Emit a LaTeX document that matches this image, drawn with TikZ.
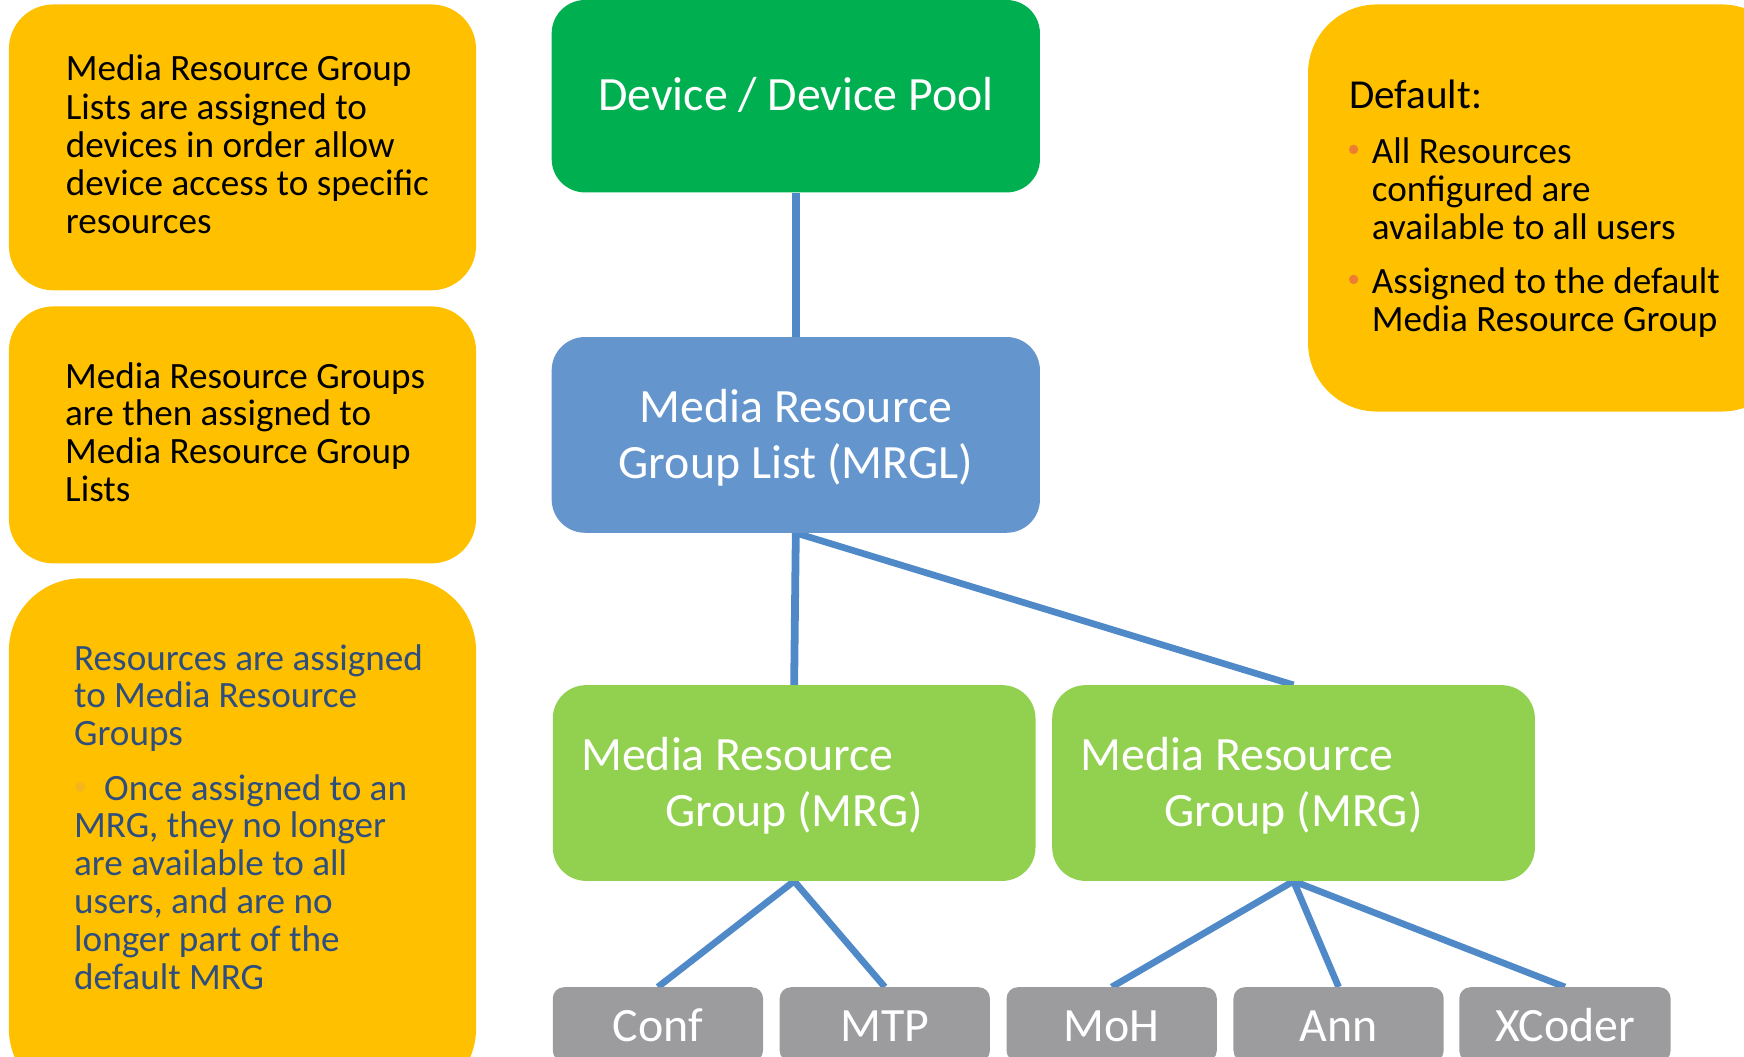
\documentclass[tikz,border=0pt]{standalone}
\usepackage{fontspec}
\setmainfont{Carlito}
\pgfdeclarelayer{links}
\pgfsetlayers{links,main}

% fixed-pitch line stacks (first baseline is the box baseline)
\newcommand\leftlines[1]{\vtop{\lineskiplimit=-1000pt\relax\halign{##\hfil\cr#1\crcr}}}
\newcommand\centerlines[1]{\vtop{\lineskiplimit=-1000pt\relax\halign{\hfil##\hfil\cr#1\crcr}}}

\definecolor{noteyellow}{HTML}{FFC000}
\definecolor{devgreen}{HTML}{00B050}
\definecolor{listblue}{HTML}{6495CD}
\definecolor{mrggreen}{HTML}{92D050}
\definecolor{resgray}{HTML}{9C9C9E}
\definecolor{linkblue}{HTML}{5089C8}
\definecolor{notetextblue}{HTML}{2E4E7E}
\definecolor{bulletorange}{HTML}{ED7D31}
\definecolor{bulletfaint}{HTML}{F6B41E}

\begin{document}
\begin{tikzpicture}[x=1pt,y=-1pt,
  note/.style={fill=noteyellow, inner sep=0pt},
  notetext/.style={anchor=base west, inner sep=0pt, font=\fontsize{33.4}{34.2}\selectfont},
  tier/.style={rounded corners=30pt, inner sep=0pt, text=white,
    font=\fontsize{43}{51}\selectfont, minimum width=439pt, minimum height=176pt},
  res/.style={fill=resgray, rounded corners=10pt, inner sep=0pt, text=white,
    font=\fontsize{43}{51}\selectfont, minimum width=189pt, minimum height=67pt,
    text height=31pt, text depth=0pt},
  link/.style={draw=linkblue, line width=6pt},
  uplink/.style={draw=linkblue, line width=7pt},
]
\useasboundingbox (0,0) rectangle (1568,950);
\clip (0,0) rectangle (1568,950);

% --- explanatory notes -------------------------------------------------
\node[note, rounded corners=40pt, minimum width=420pt, minimum height=257pt] (noteA) at (218,132.5) {};
\node[notetext] (noteAtext) at (59,72.8)
  {\leftlines{Media Resource Group\cr Lists are assigned to\cr devices in order allow\cr
   device access to specific\cr resources}};

\node[note, rounded corners=40pt, minimum width=420pt, minimum height=231pt] (noteB) at (218,391) {};
\node[notetext, font=\fontsize{33.4}{33.8}\selectfont] (noteBtext) at (58.4,349.2)
  {\leftlines{Media Resource Groups\cr are then assigned to\cr Media Resource Group\cr Lists}};

\node[note, rounded corners=65pt, minimum width=420pt, minimum height=470pt] (noteC) at (218,755) {};
\node[notetext, text=notetextblue, font=\fontsize{33.4}{34}\selectfont] (noteCtext) at (66.5,602.4)
  {\leftlines{Resources are assigned\cr to Media Resource\cr Groups\cr
   \noalign{\vskip15pt}\kern27pt Once assigned to an\cr MRG, they no longer\cr
   are available to all\cr users, and are no\cr longer part of the\cr default MRG}};
\fill[bulletfaint] (72,707.3) circle (4.5pt);

\node[note, rounded corners=62pt, minimum width=434pt, minimum height=366pt] (noteD) at (1393,187) {};
\node[notetext, font=\fontsize{37}{40}\selectfont] (noteDhead) at (1213,97.4) {Default:};
\node[notetext, font=\fontsize{33.4}{34.1}\selectfont] (noteDtext) at (1233.3,146.9)
  {\leftlines{All Resources\cr configured are\cr available to all users\cr
   \noalign{\vskip14.4pt}Assigned to the default\cr Media Resource Group}};
\fill[bulletorange] (1217,134.3) circle (4.2pt);
\fill[bulletorange] (1217,251.2) circle (4.2pt);

% --- hierarchy ---------------------------------------------------------
\node[tier, fill=devgreen, minimum height=173pt, text height=30pt, text depth=5pt]
  (dev) at (715.5,86.5) {Device / Device Pool};
\node[tier, fill=listblue, text height=30pt, text depth=53pt]
  (mrgl) at (715.5,391) {\centerlines{Media Resource\cr Group List (MRGL)}};
\node[tier, fill=mrggreen, minimum width=434pt, text height=30pt, text depth=53pt]
  (mrg1) at (714,704) {\centerlines{Media Resource\kern102pt\cr Group (MRG)}};
\node[tier, fill=mrggreen, minimum width=434pt, text height=30pt, text depth=53pt]
  (mrg2) at (1163,704) {\centerlines{Media Resource\kern102pt\cr Group (MRG)}};

\node[res] (conf)   at (591.5,921.1)  {Conf};
\node[res] (mtp)    at (795.5,921.1)  {MTP};
\node[res] (moh)    at (999.5,921.1)  {MoH};
\node[res] (ann)    at (1203.5,921.1) {Ann};
\node[res, minimum width=190pt] (xcoder) at (1407,921.1) {XCoder};

% --- connectors (kept beneath the boxes) -------------------------------
\begin{pgfonlayer}{links}
  \draw[uplink] (dev.south) -- (mrgl.north);
  \draw[uplink] (mrgl.south) -- (mrg1.north);
  \draw[link] (mrgl.south) -- (mrg2.north);
  \draw[link] (mrg1.south) -- (conf.north);
  \draw[link] (mrg1.south) -- (mtp.north);
  \draw[link] (mrg2.south) -- (moh.north);
  \draw[link] (mrg2.south) -- (ann.north);
  \draw[link] (mrg2.south) -- (xcoder.north);
\end{pgfonlayer}
\end{tikzpicture}
\end{document}
